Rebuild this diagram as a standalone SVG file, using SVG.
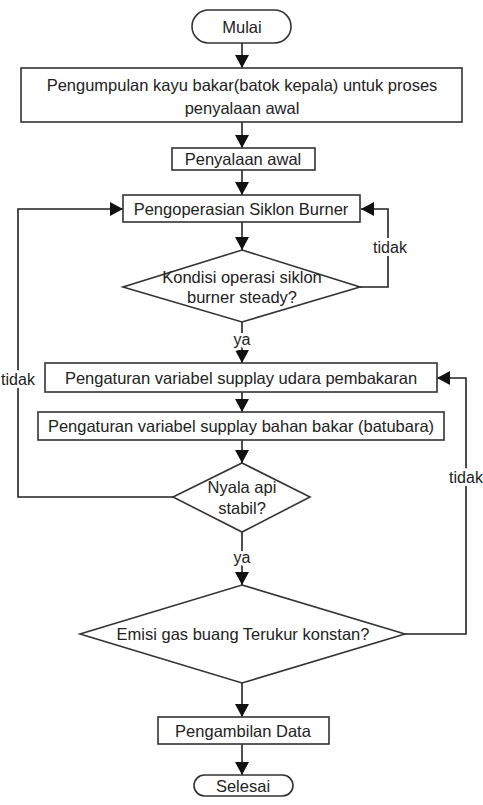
<svg xmlns="http://www.w3.org/2000/svg" width="483" height="805" viewBox="0 0 483 805">
<style>
.s{fill:#fff;stroke:#333;stroke-width:1.6}
.t{font-family:"Liberation Sans",Arial,sans-serif;font-size:16.5px;fill:#222;text-anchor:middle}
.c{fill:none;stroke:#222;stroke-width:1.6}
.l{font-family:"Liberation Sans",Arial,sans-serif;font-size:16px;fill:#222;text-anchor:middle;stroke:#fff;stroke-width:6;paint-order:stroke;stroke-linejoin:round}
</style>
<defs>
<marker id="ah" markerUnits="userSpaceOnUse" markerWidth="14" markerHeight="14" viewBox="0 0 14 14" refX="13" refY="7" orient="auto">
<path d="M0,0 L13,7 L0,14 Z" fill="#111"/>
</marker>
</defs>
<g id="connectors">
<line class="c" x1="242" y1="43" x2="242" y2="68" marker-end="url(#ah)"/>
<line class="c" x1="242" y1="122" x2="242" y2="148" marker-end="url(#ah)"/>
<line class="c" x1="242" y1="170" x2="242" y2="195" marker-end="url(#ah)"/>
<line class="c" x1="242" y1="222" x2="242" y2="250" marker-end="url(#ah)"/>
<line class="c" x1="242" y1="322" x2="242" y2="363" marker-end="url(#ah)"/>
<polyline class="c" points="360,287 388,287 388,209 361,209" marker-end="url(#ah)"/>
<line class="c" x1="242" y1="392" x2="242" y2="412" marker-end="url(#ah)"/>
<line class="c" x1="242" y1="440" x2="242" y2="463" marker-end="url(#ah)"/>
<polyline class="c" points="173,497 18,497 18,209 123,209" marker-end="url(#ah)"/>
<line class="c" x1="242" y1="532" x2="242" y2="585" marker-end="url(#ah)"/>
<polyline class="c" points="405,634 466,634 466,378 437,378" marker-end="url(#ah)"/>
<line class="c" x1="242" y1="683" x2="242" y2="717" marker-end="url(#ah)"/>
<line class="c" x1="242" y1="744" x2="242" y2="775" marker-end="url(#ah)"/>
<text class="l" x="390" y="253">tidak</text>
<text class="l" x="242" y="345">ya</text>
<text class="l" x="18" y="385">tidak</text>
<text class="l" x="242" y="563">ya</text>
<text class="l" x="466" y="483">tidak</text>
</g>
<g id="mulai">
<rect class="s" x="192" y="10" width="99" height="33" rx="16.5"/>
<text class="t" x="242" y="32.5">Mulai</text>
</g>
<g id="pengumpulan">
<rect class="s" x="21" y="68" width="441" height="54"/>
<text class="t" x="242" y="91">Pengumpulan kayu bakar(batok kepala) untuk proses</text>
<text class="t" x="242" y="114">penyalaan awal</text>
</g>
<g id="penyalaan">
<rect class="s" x="172" y="148" width="143" height="22"/>
<text class="t" x="243" y="165">Penyalaan awal</text>
</g>
<g id="pengoperasian">
<rect class="s" x="123" y="195" width="237" height="27"/>
<text class="t" x="241" y="214.5">Pengoperasian Siklon Burner</text>
</g>
<g id="kondisi">
<polygon class="s" points="242,250 360,287 242,322 123,287"/>
<text class="t" x="242" y="283">Kondisi operasi siklon</text>
<text class="t" x="242" y="303">burner steady?</text>
</g>
<g id="udara">
<rect class="s" x="45" y="363" width="392" height="29"/>
<text class="t" x="241" y="383.5">Pengaturan variabel supplay udara pembakaran</text>
</g>
<g id="bahan">
<rect class="s" x="38" y="412" width="406" height="28"/>
<text class="t" x="241" y="432">Pengaturan variabel supplay bahan bakar (batubara)</text>
</g>
<g id="nyala">
<polygon class="s" points="242,463 310,497 242,532 173,497"/>
<text class="t" x="242" y="493">Nyala api</text>
<text class="t" x="242" y="514">stabil?</text>
</g>
<g id="emisi">
<polygon class="s" points="242,585 405,634 242,683 80,634"/>
<text class="t" x="243" y="640">Emisi gas buang Terukur konstan?</text>
</g>
<g id="pengambilan">
<rect class="s" x="158" y="717" width="171" height="27"/>
<text class="t" x="243" y="736.5">Pengambilan Data</text>
</g>
<g id="selesai">
<rect class="s" x="194" y="775" width="99" height="21" rx="10.5"/>
<text class="t" x="243" y="791.5">Selesai</text>
</g>
</svg>
